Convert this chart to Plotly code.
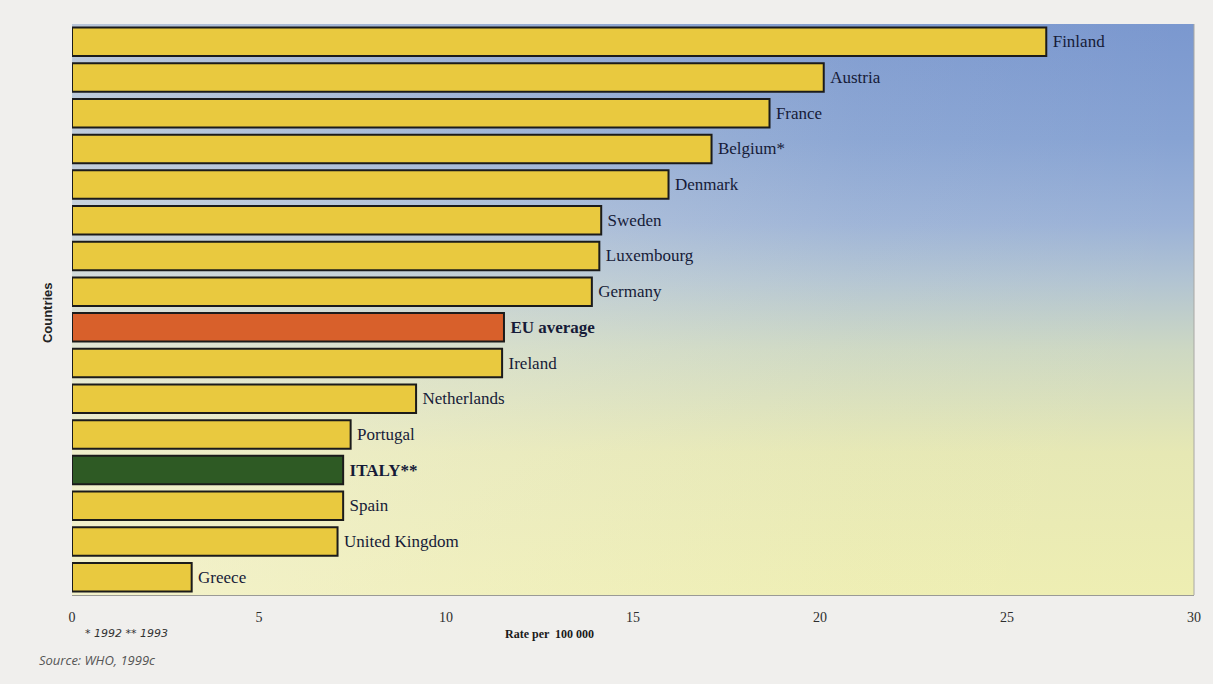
import plotly.graph_objects as go

# Suicide / mortality rate per 100 000, top to bottom as plotted
countries = ["Finland", "Austria", "France", "Belgium*", "Denmark", "Sweden",
             "Luxembourg", "Germany", "EU average", "Ireland", "Netherlands",
             "Portugal", "ITALY**", "Spain", "United Kingdom", "Greece"]
rates = [26.05, 20.1, 18.65, 17.1, 15.95, 14.15, 14.1, 13.9, 11.55, 11.5,
         9.2, 7.45, 7.25, 7.25, 7.1, 3.2]
x_ticks = [0, 5, 10, 15, 20, 25, 30]

BAR_YELLOW = "#e9c93f"
HIGHLIGHT = {"EU average": "#d8602b", "ITALY**": "#2e5a24"}
BOLD_LABELS = {"EU average", "ITALY**"}

n = len(countries)
ypos = [n - 1 - i for i in range(n)]  # first country on top
fill_colors = [HIGHLIGHT.get(c, BAR_YELLOW) for c in countries]
# small gap between bar end and its label
labels = ["\u2009" + (f"<b>{c}</b>" if c in BOLD_LABELS else c) for c in countries]

X_MAX = 30
Y_LO, Y_HI = -0.5, n - 0.5

# background wash lives on the base axes (unit square), bars on the overlay axes
sq_x = [0, 1, 1, 0, 0]
sq_y = [0, 0, 1, 1, 0]

fig = go.Figure()

fig.add_trace(go.Scatter(
    x=sq_x, y=sq_y, xaxis="x", yaxis="y", mode="lines", fill="toself",
    line=dict(width=0), hoverinfo="skip", showlegend=False,
    fillgradient=dict(
        type="vertical",
        colorscale=[[0.0, "#eeeeb2"], [0.25, "#e6e8b4"], [0.43, "#cdd8c3"],
                    [0.55, "#b2c4d2"], [0.65, "#9bb2d7"], [0.8, "#87a3d3"],
                    [1.0, "#7b98cf"]],
    ),
))
fig.add_trace(go.Scatter(
    x=sq_x, y=sq_y, xaxis="x", yaxis="y", mode="lines", fill="toself",
    line=dict(width=0), hoverinfo="skip", showlegend=False,
    fillgradient=dict(
        type="horizontal",
        colorscale=[[0.0, "rgba(248,245,228,0.5)"], [0.35, "rgba(248,245,228,0.25)"],
                    [0.7, "rgba(248,245,228,0.05)"], [1.0, "rgba(248,245,228,0)"]],
    ),
))

fig.add_trace(go.Bar(
    x=rates, y=ypos, xaxis="x2", yaxis="y2", orientation="h", width=0.8,
    marker=dict(color=fill_colors, line=dict(color="#1b1b1b", width=2)),
    text=labels, textposition="outside", cliponaxis=False,
    textfont=dict(family="Liberation Serif, Times New Roman, serif", size=17,
                  color="#161b38"),
    hoverinfo="skip", showlegend=False,
))

serif = "Liberation Serif, Times New Roman, serif"

fig.update_layout(
    width=1213, height=684,
    margin=dict(l=72, r=15, t=24, b=89),
    paper_bgcolor="#f0efed", plot_bgcolor="rgba(0,0,0,0)",
    bargap=0.2,
    xaxis=dict(range=[0, 1], visible=False, fixedrange=True),
    yaxis=dict(range=[0, 1], visible=False, fixedrange=True),
    xaxis2=dict(
        overlaying="x", side="bottom",
        range=[0, X_MAX], tickvals=x_ticks, showgrid=False, zeroline=False,
        showline=True, linecolor="#9a9a96", linewidth=1,
        ticks="", ticklabelstandoff=9,
        tickfont=dict(family=serif, size=14, color="#2e2e2e"),
    ),
    yaxis2=dict(
        overlaying="y", side="left",
        range=[Y_LO, Y_HI], showticklabels=False, showgrid=False,
        zeroline=False, ticks="",
    ),
    shapes=[dict(type="line", xref="paper", yref="paper", x0=1, x1=1,
                 y0=0, y1=1, line=dict(color="#a8a8a4", width=1))],
    annotations=[
        dict(text="<b>Rate per  100 000</b>", xref="paper", yref="paper",
             x=(551 - 72) / 1126, y=-0.068, xanchor="center", yanchor="middle",
             showarrow=False,
             font=dict(family=serif, size=12, color="#1a1a1a")),
        dict(text="<b>Countries</b>", xref="paper", yref="paper",
             x=(47 - 72) / 1126, y=(595 - 313) / 571, textangle=-90,
             xanchor="center", yanchor="middle", showarrow=False,
             font=dict(family="Liberation Sans Narrow, Liberation Sans, Arial, sans-serif",
                       size=13, color="#222222")),
        dict(text="<i>* 1992 ** 1993</i>", xref="paper", yref="paper",
             x=(83 - 72) / 1126, y=-0.068, xanchor="left", yanchor="middle",
             showarrow=False,
             font=dict(family="DejaVu Sans, sans-serif", size=11, color="#333333")),
        dict(text="<i>Source: WHO, 1999c</i>", xref="paper", yref="paper",
             x=(37 - 72) / 1126, y=-0.114, xanchor="left", yanchor="middle",
             showarrow=False,
             font=dict(family="Open Sans, DejaVu Sans, sans-serif", size=13,
                       color="#555555")),
    ],
)

fig.write_html("out.html")
